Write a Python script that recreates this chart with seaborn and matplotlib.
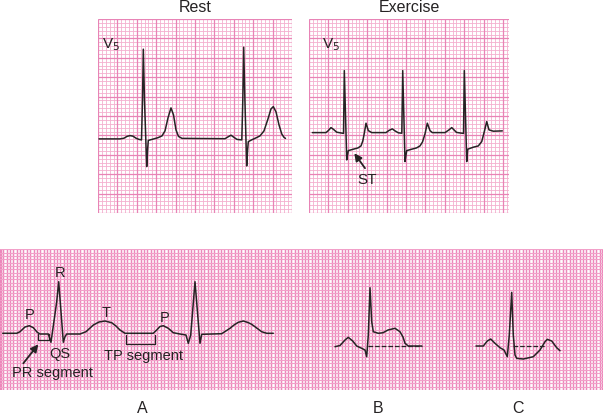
import numpy as np
import matplotlib
matplotlib.use("Agg")
import matplotlib.pyplot as plt
import seaborn as sns

sns.set_style("white")
plt.rcParams['font.family'] = ['Liberation Sans', 'DejaVu Sans']

ink = '#262324'
grid_minor = '#f4b0cf'
grid_major = '#e884b6'
strip_v = '#ec88bb'
strip_h = '#f2a0c9'

# --- traces, in mm of ECG paper (x: 1 mm = 40 ms, y: 1 mm = 0.1 mV) ---
# Rest, lead V5 (baseline = 0)
rest_t = [0.26, 5.67, 6.70, 7.47, 8.25, 9.02, 9.79, 10.57, 11.21, 11.47, 11.68, 11.98,
          12.55, 12.78, 12.96, 13.92, 15.46, 16.49, 17.27, 18.04, 18.81, 19.46, 20.10,
          20.75, 21.65, 32.73, 33.51, 34.28, 35.05, 35.82, 37.06, 37.32, 37.55, 37.86,
          38.32, 38.56, 38.74, 39.69, 40.72, 41.75, 42.78, 43.81, 44.59, 45.18, 45.88,
          46.65, 47.35, 47.94, 48.32]
rest_v = [0, 0, 0.18, 0.64, 0.85, 0.70, 0.18, -0.13, -0.26, 10.05, 23.12, 10.05,
          -7.14, -2.84, -0.39, -0.13, 0.31, 0.77, 2.06, 5.41, 7.99, 6.19, 2.32,
          0.64, 0.13, 0.05, 0.52, 0.95, 0.39, -0.13, -0.26, 10.05, 23.63, 10.05,
          -6.96, -2.84, -0.70, -0.21, 0.26, 0.77, 2.06, 5.15, 7.73, 8.32, 6.96,
          3.61, 1.29, 0.39, 0.13]

# Exercise, lead V5 (baseline = 0)
ex_t = [0.83, 4.25, 4.88, 5.5, 6.13, 6.93, 8.18, 8.63, 8.83, 9.43, 9.63, 9.83, 11.08,
        12.25, 13.0, 13.45, 13.83, 14.25, 14.83, 15.68, 19.25, 20.0, 20.83, 21.5, 22.33,
        23.2, 23.43, 24.0, 24.25, 24.43, 25.68, 26.88, 27.75, 28.38, 29.0, 29.58, 30.25,
        30.83, 34.0, 35.0, 35.68, 36.25, 36.88, 38.0, 38.63, 38.83, 39.43, 39.55, 39.68,
        41.08, 42.33, 43.18, 43.83, 44.43, 45.0, 46.08, 48.33]
ex_v = [0, 0, 0.55, 1.25, 0.8, 0.1, -0.12, -0.2, 15.5, -6.83, -5.58, -4.5, -4.15,
        -3.83, -3.33, -2.08, -0.15, 2.35, 0.5, 0, 0, 0.55, 0.93, 0.43, -0.05,
        -0.15, 15.5, -7.25, -5.58, -4.5, -4.15, -3.83, -3.33, -2.33, -0.33, 2.35, 0.5,
        0, 0, 0.68, 1.25, 0.68, 0.05, -0.12, -0.2, 15.5, -7.25, -5.58, -4.15,
        -3.65, -3.33, -2.25, 0.25, 2.75, 0.68, 0.35, 0.43]

# Strip A: normal complex
a_t = [0.81, 4.99, 5.97, 7.46, 8.75, 9.94, 11.13, 11.94, 14.42, 15.22, 16.93, 17.52,
       18.21, 18.90, 19.40, 19.91, 23.88, 25.67, 27.85, 29.55, 31.34, 33.34, 34.63,
       35.82, 37.31, 45.76, 46.78, 47.76, 48.75, 50.24, 51.73, 53.73, 55.52, 56.21,
       56.93, 58.21, 59.70, 60.21, 66.18, 68.66, 69.85, 71.13, 72.63, 74.03, 75.13,
       76.42, 78.12, 79.61, 81.58]
a_v = [16.93, 16.93, 17.40, 18.81, 19.19, 18.60, 17.22, 16.72, 16.72, 14.24, 26.36, 32.33,
       23.37, 14.24, 15.91, 16.72, 16.72, 17.40, 19.40, 20.30, 20.60, 20.09, 19.10,
       17.91, 16.93, 16.93, 17.91, 18.96, 19.19, 18.42, 17.10, 16.72, 16.42, 13.94,
       16.42, 32.33, 13.94, 16.63, 16.81, 18.42, 19.40, 20.21, 20.60, 20.15, 19.61,
       18.66, 17.40, 16.93, 16.93]

# Strip B: ST elevation
b_t = [100.0, 101.49, 102.99, 103.97, 105.28, 106.48, 107.97, 108.96, 109.46, 109.94,
       110.45, 110.96, 111.43, 112.93, 114.33, 115.82, 117.91, 119.40, 120.30, 120.90,
       121.88, 125.88]
b_v = [12.93, 13.28, 14.93, 15.73, 14.63, 13.13, 12.45, 11.94, 9.94, 16.42,
       30.54, 20.39, 17.40, 16.93, 17.10, 17.91, 18.42, 17.40, 15.82, 13.94,
       13.13, 13.13]
b_base_t = [109.94, 125.88]
b_base_v = [13.13, 13.13]

# Strip C: ST depression
c_t = [142.09, 144.27, 145.46, 146.48, 147.76, 149.25, 150.45, 151.43, 152.03, 152.75,
       153.22, 153.73, 154.24, 156.21, 159.19, 161.19, 162.69, 163.37, 164.69, 166.18,
       167.16]
c_v = [13.13, 13.13, 14.63, 15.22, 13.94, 12.63, 11.94, 9.94, 16.42, 29.16,
       16.42, 10.45, 9.46, 9.25, 9.94, 11.94, 14.42, 15.13, 14.63, 12.63,
       11.73]
c_base_t = [153.22, 162.69]
c_base_v = [13.13, 13.13]

# segment brackets on strip A
pr_box_t = [11.43, 11.43, 14.63, 14.63]
pr_box_v = [16.63, 14.84, 14.84, 16.63]
tp_box_t = [37.52, 37.52, 46.27, 46.27]
tp_box_v = [16.42, 13.64, 13.64, 16.42]

wave_labels = ['P', 'R', 'T', 'P', 'QS', 'TP segment']
wave_label_t = [8.75, 17.91, 31.64, 49.04, 17.91, 42.78]
wave_label_v = [22.39, 34.84, 22.90, 21.58, 10.75, 10.24]

strip_names = ['A', 'B', 'C']
strip_name_t = [42.48, 112.75, 154.72]
strip_ticks = [0.3, 30, 60, 90, 120, 150, 179.7]


def trace(ax, t, v, **kw):
    sns.lineplot(x=t, y=v, ax=ax, sort=False, estimator=None, color=ink,
                 lw=kw.pop('lw', 1.1), **kw)
    ax.set_xlabel('')
    ax.set_ylabel('')


def ecg_panel(rect, xmax, ymin, ymax, step):
    ax = fig.add_axes(rect)
    xs = np.arange(0, xmax + 0.01, step)
    ys = np.arange(ymin, ymax + 0.01, step)
    ax.vlines(xs, ymin, ymax, color=grid_minor, lw=0.6, zorder=0)
    ax.hlines(ys, 0, xmax, color=grid_minor, lw=0.6, zorder=0)
    ax.vlines(xs[::5], ymin, ymax, color=grid_major, lw=0.9, zorder=0.5)
    ax.hlines(ys[::5], 0, xmax, color=grid_major, lw=0.9, zorder=0.5)
    ax.set_xticks([])
    ax.set_yticks([])
    for s in ax.spines.values():
        s.set_visible(False)
    return ax


fig = plt.figure(figsize=(6.03, 4.15), dpi=100)

# Rest
ax1 = ecg_panel([98 / 603, 202 / 415, 194 / 603, 194 / 415], 50, -19.1, 30.9, 1.0)
trace(ax1, rest_t, rest_v)
ax1.set_xlim(0, 50)
ax1.set_ylim(-19.1, 30.9)
ax1.text(1.0, 24.2, 'V$_5$', fontsize=11, color=ink, ha='left', va='center')
ax1.set_title('Rest', fontsize=11.5, color=ink, pad=5)

# Exercise
ax2 = ecg_panel([309 / 603, 202 / 415, 200 / 603, 194 / 415], 50, -20.1, 28.4, 0.97)
trace(ax2, ex_t, ex_v)
ax2.set_xlim(0, 50)
ax2.set_ylim(-20.1, 28.4)
ax2.text(3.25, 21.9, 'V$_5$', fontsize=11, color=ink, ha='left', va='center')
ax2.set_title('Exercise', fontsize=11.5, color=ink, pad=5)
ax2.annotate('', xy=(11.33, -5.15), xytext=(14.0, -8.9),
             arrowprops=dict(arrowstyle='-|>', color=ink, lw=1.3,
                             mutation_scale=11, shrinkA=0, shrinkB=0))
ax2.text(14.43, -11.83, 'ST', fontsize=11, color=ink, ha='center', va='center')

# bottom strip
ax3 = fig.add_axes([0, 25 / 415, 1, 141 / 415])
ax3.set_xlim(0, 180)
ax3.set_ylim(0, 42.1)
ax3.set_xticks(strip_ticks)
ax3.set_xticks(np.arange(0, 181, 1), minor=True)
ax3.set_yticks([])
ax3.set_yticks(np.arange(0, 42.2, 1), minor=True)
ax3.grid(which='both', axis='x', color=strip_v, lw=1.05)
ax3.grid(which='minor', axis='y', color=strip_h, lw=0.8)
ax3.tick_params(axis='x', which='major', length=5.5, width=1, color=strip_v,
                direction='out', labelbottom=False)
ax3.tick_params(which='minor', length=0)
for s in ax3.spines.values():
    s.set_visible(False)
ax3.set_axisbelow(True)

trace(ax3, a_t, a_v)
trace(ax3, b_t, b_v)
trace(ax3, c_t, c_v)
trace(ax3, b_base_t, b_base_v, linestyle='--', lw=0.9)
trace(ax3, c_base_t, c_base_v, linestyle='--', lw=0.9)
trace(ax3, pr_box_t, pr_box_v, lw=0.9)
trace(ax3, tp_box_t, tp_box_v, lw=0.9)
ax3.set_xlim(0, 180)
ax3.set_ylim(0, 42.1)

for lab, t, v in zip(wave_labels, wave_label_t, wave_label_v):
    ax3.text(t, v, lab, fontsize=10.5, color=ink, ha='center', va='center')
ax3.text(15.73, 4.99, 'PR segment', fontsize=10.5, color=ink, ha='center', va='center')
ax3.annotate('', xy=(11.43, 13.64), xytext=(6.96, 7.97),
             arrowprops=dict(arrowstyle='-|>', color=ink, lw=1.3,
                             mutation_scale=11, shrinkA=0, shrinkB=0))

for lab, t in zip(strip_names, strip_name_t):
    ax3.text(t, -5.46, lab, fontsize=11.5, color=ink, ha='center', va='center',
             clip_on=False)

fig.savefig('out.png', dpi=100)
